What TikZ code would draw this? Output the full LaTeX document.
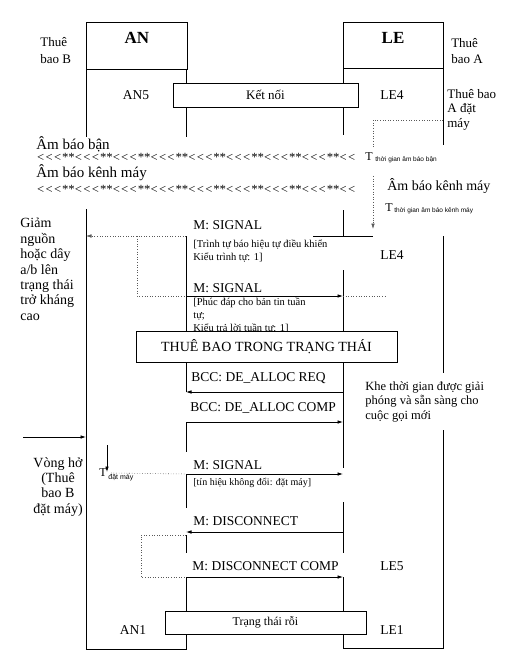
\documentclass[tikz,border=0pt]{standalone}
\usepackage{fontspec}
\setmainfont{Liberation Serif}
\newfontfamily\tinysans{Liberation Sans}
\newfontfamily\chevfont[Ligatures=TeXOff]{Liberation Serif}
\usetikzlibrary{arrows.meta,calc}
\begin{document}
\begin{tikzpicture}[x=1pt,y=-1pt,line width=0.75pt,
  arr/.style={-{Latex[length=5.5pt,width=3.6pt]}},
  dotl/.style={dotted,line width=0.6pt,black!65},
  boxn/.style={draw,fill=white,line width=0.75pt,inner sep=0pt},
  lbl/.style={inner sep=0pt,anchor=west,font=\fontsize{13.5}{15}\selectfont},
  note/.style={inner sep=0pt,anchor=west,align=left,font=\fontsize{10.5}{13}\selectfont},
  side/.style={inner sep=0pt,align=left,font=\fontsize{14}{15.4}\selectfont},
  state/.style={inner sep=0pt,font=\fontsize{13.5}{15}\selectfont},
  head/.style={inner sep=0pt,font=\fontsize{17}{18}\selectfont\bfseries},
  sub/.style={inner sep=0pt,anchor=west,font=\tinysans\fontsize{6.5}{7}\selectfont},
  tone/.style={inner sep=0pt,anchor=west,font=\fontsize{15}{16}\selectfont},
  chev/.style={inner sep=0pt,anchor=west,font=\chevfont\fontsize{12.5}{14}\selectfont\itshape}]
\useasboundingbox (0,0) rectangle (504,652);
% columns
\coordinate (ANL) at (86,0);
\coordinate (ANR) at (186,0);
\coordinate (LEL) at (343,0);
\coordinate (LER) at (443,0);
% header boxes
\draw (86,22) rectangle (187,69);
\draw (343,22) rectangle (443,68);
\node[head] (an) at (137,38) {AN};
\node[head] (le) at (393,38) {LE};
\node[inner sep=0pt,align=left,anchor=west,font=\fontsize{13}{17}\selectfont] (tbB) at (40,51) {Thuê\\bao B};
\node[inner sep=0pt,align=left,font=\fontsize{13}{16}\selectfont] (tbA) at (467,51) {Thuê\\bao A};
% lifelines
\draw (86,69)--(86,137);
\draw (86,209)--(86,649)--(186,649)--(186,634);
\draw (186,69)--(186,137);
\draw (186,236)--(186,331);
\draw (186,362)--(186,392);
\draw (186,422)--(186,452);
\draw (186,474)--(186,508);
\draw (186,535)--(186,553);
\draw (186,577)--(186,634);
\draw (343,68)--(343,135);
\draw (343,210)--(343,236);
\draw (343,270)--(343,331);
\draw (343,362)--(343,468);
\draw (343,502)--(343,553);
\draw (343,577)--(343,648)--(443,648)--(443,430);
\draw (443,68)--(443,145);
\draw (443,236)--(443,373);
% Ket noi
\node[boxn,minimum width=185pt,minimum height=24pt,font=\fontsize{13}{14}\selectfont] (ketnoi) at (265.5,95) {Kết nối};
\node[state] (an5) at (136,95) {AN5};
\node[state] (le4a) at (392,95) {LE4};
\node[inner sep=0pt,anchor=north west,align=left,font=\fontsize{13}{14.5}\selectfont] (tbAdat) at (447,89) {Thuê bao\\A đặt\\máy};
% tones
\node[tone] (ambb) at (36,144) {Âm báo bận};
\node[chev] (chev1) at (36,157) {<<<**<<<**<<<**<<<**<<<**<<<**<<<**<<<**<<};
\node[tone] (ambk) at (36,173) {Âm báo kênh máy};
\node[chev] (chev2) at (36,189) {<<<**<<<**<<<**<<<**<<<**<<<**<<<**<<<**<<};
% timers on the right
\coordinate (tm0) at (0,120);
\coordinate (tmc) at (373,120);
\coordinate (tmend) at (373,229);
\draw[dotl] (LER|-tm0) -- (tmc) -- (373,147);
\draw[dotl] (373,176) -- (373,222);
\draw[arr,dotl] (373,222) -- (tmend);
\node[inner sep=0pt,font=\fontsize{12}{13}\selectfont] (T1) at (369,157) {T};
\node[sub] (T1s) at (375,160) {thời gian âm báo bận};
\node[inner sep=0pt,anchor=west,font=\fontsize{14}{15}\selectfont] (ambk2) at (387,186) {Âm báo kênh máy};
\node[inner sep=0pt,font=\fontsize{12}{13}\selectfont] (T2) at (389,208) {T};
\node[sub] (T2s) at (394,211) {thời gian âm báo kênh máy};
% first M: SIGNAL
\coordinate (y1) at (0,236);
\draw (313,236) -- (373,236);
\draw[arr,dotl] (ANR|-y1) -- (ANL|-y1);
\node[lbl] (sig1) at (193,225) {M: SIGNAL};
\node[note] (sig1n) at (193,251) {[Trình tự báo hiệu tự điều khiển\\Kiểu trình tự: 1]};
\node[state] (le4b) at (392,255) {LE4};
\node[side,anchor=north west] (giam) at (20,218) {Giảm\\nguồn\\hoặc dây\\a/b lên\\trạng thái\\trở kháng\\cao};
% second M: SIGNAL
\coordinate (y2) at (0,296);
\draw[dotl] (137,236) -- (137,296) -- (ANR|-y2);
\draw[arr] (ANR|-y2) -- (LEL|-y2);
\draw[dotl] (LEL|-y2) -- (387,296);
\node[lbl] (sig2) at (193,288) {M: SIGNAL};
\node[note] (sig2n) at (193,316) {[Phúc đáp cho bản tin tuần\\tự;\\Kiểu trả lời tuần tự: 1]};
% state box
\node[boxn,minimum width=261pt,minimum height=30.5pt,font=\fontsize{14}{15}\selectfont] (tbtt) at (266.5,347) {THUÊ BAO TRONG TRẠNG THÁI};
% DE_ALLOC
\coordinate (y3) at (0,392);
\coordinate (y4) at (0,422);
\draw[arr] (LEL|-y3) -- (ANR|-y3);
\node[lbl] (dreq) at (191,378) {BCC: DE\_ALLOC REQ};
\draw[arr] (ANR|-y4) -- (LEL|-y4);
\node[lbl] (dcomp) at (190,408) {BCC: DE\_ALLOC COMP};
\node[inner sep=0pt,anchor=north west,align=left,font=\fontsize{12.5}{14.7}\selectfont] (khe) at (365,381) {Khe thời gian được giải\\phóng và sẵn sàng cho\\cuộc gọi mới};
% left arrow and hook timer
\coordinate (y5) at (0,437);
\coordinate (lft) at (23,437);
\draw[arr] (lft) -- (ANL|-y5);
\coordinate (td0) at (107,445);
\coordinate (td1) at (107,472);
\draw[arr] (td0) -- (td1);
\node[inner sep=0pt,font=\fontsize{12}{13}\selectfont] (T3) at (103,473) {T};
\node[sub,font=\tinysans\fontsize{7}{8}\selectfont] (T3s) at (108,478) {đặt máy};
\coordinate (y6) at (0,474);
\draw[dotl] (111,473) -- (ANR|-y6);
\draw[arr] (ANR|-y6) -- (LEL|-y6);
\node[lbl] (sig3) at (193,465) {M: SIGNAL};
\node[note,font=\fontsize{10}{12}\selectfont] (sig3n) at (193,483) {[tín hiệu không đổi: đặt máy]};
\node[side,align=center,anchor=north] (vong) at (58,457) {Vòng hở\\(Thuê\\bao B\\đặt máy)};
% DISCONNECT
\coordinate (y7) at (0,532);
\coordinate (y8) at (0,577);
\draw[arr] (LEL|-y7) -- (ANR|-y7);
\node[lbl] (disc) at (193,521) {M: DISCONNECT};
\draw[dotl] (186,535) -- (141,535) -- (141,577) -- (ANR|-y8);
\draw[arr] (ANR|-y8) -- (LEL|-y8);
\node[lbl] (discc) at (192,566) {M: DISCONNECT COMP};
\node[state] (le5) at (392,566) {LE5};
% idle
\node[boxn,minimum width=201pt,minimum height=23pt,font=\fontsize{12}{13}\selectfont] (idle) at (265.5,622.5) {Trạng thái rỗi};
\node[state] (an1) at (133,630) {AN1};
\node[state] (le1) at (392,630) {LE1};
\end{tikzpicture}
\end{document}
